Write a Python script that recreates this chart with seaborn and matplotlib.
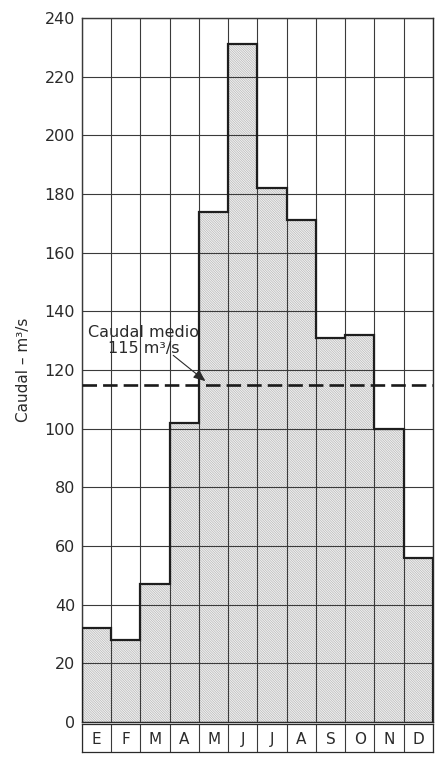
import numpy as np
import pandas as pd
import matplotlib
matplotlib.use("Agg")
import matplotlib.pyplot as plt
import seaborn as sns

# Monthly mean discharge (m3/s), January (E) to December (D)
meses = ["E", "F", "M", "A", "M", "J", "J", "A", "S", "O", "N", "D"]
caudal = [32, 28, 47, 102, 174, 231, 182, 171, 131, 132, 100, 56]
caudal_medio = 115
y_ticks = [0, 20, 40, 60, 80, 100, 120, 140, 160, 180, 200, 220, 240]

sns.set_theme(style="white")
plt.rcParams["font.family"] = ["DejaVu Sans"]
plt.rcParams["hatch.linewidth"] = 0.45

df = pd.DataFrame({"pos": np.arange(len(caudal)), "caudal": caudal})

fig = plt.figure(figsize=(4.48, 7.59), dpi=100)
ax = fig.add_axes([0.183, 0.0487, 0.7835, 0.9276])
ax_m = fig.add_axes([0.183, 0.0092, 0.7835, 0.0375])

sns.barplot(data=df, x="pos", y="caudal", width=1.0, color="#f1f1f1",
            saturation=1, hatch="\\" * 14, edgecolor="#b4b4b4",
            linewidth=0, ax=ax, zorder=1)

# stepped outline of the monthly bars
edges = np.arange(len(caudal) + 1) - 0.5
ax.stairs(caudal, edges, baseline=0, color="#1e1e1e", linewidth=1.6, zorder=4)

ax.set_xlim(-0.5, len(caudal) - 0.5)
ax.set_ylim(0, 240)
ax.set_yticks(y_ticks)
ax.set_yticklabels([str(t) for t in y_ticks], fontsize=11.5, color="#2a2a2a")
ax.set_xticks([])
ax.grid(False)
for e in edges:
    ax.axvline(e, color="#3a3a3a", linewidth=0.8, zorder=3)
for t in y_ticks:
    ax.axhline(t, color="#3a3a3a", linewidth=0.8, zorder=3)
ax.tick_params(axis="y", length=0, pad=5)
ax.set_xlabel("")
ax.set_ylabel("Caudal – m³/s", fontsize=11, color="#2a2a2a", labelpad=10)
for s in ax.spines.values():
    s.set_color("#2a2a2a")
    s.set_linewidth(1.0)

# mean discharge
ax.axhline(caudal_medio, color="#1a1a1a", linewidth=1.9, dashes=(5.5, 2.3), zorder=5)
ax.text(1.6, 130, "Caudal medio\n115 m³/s", ha="center", va="center",
        multialignment="center", fontsize=11.5, color="#2a2a2a",
        linespacing=1.05, zorder=6)
ax.annotate("", xy=(3.72, 116.2), xytext=(2.62, 125.0),
            arrowprops=dict(arrowstyle="-|>,head_length=0.6,head_width=0.25",
                            color="#2a2a2a", lw=0.8, shrinkA=0, shrinkB=0),
            zorder=6)

# row of month letters under the chart
ax_m.set_xlim(-0.5, len(meses) - 0.5)
ax_m.set_ylim(0, 1)
for e in edges:
    ax_m.axvline(e, color="#3a3a3a", linewidth=0.8)
for i, m in enumerate(meses):
    ax_m.text(i, 0.45, m, ha="center", va="center", fontsize=11, color="#2a2a2a")
ax_m.set_xticks([])
ax_m.set_yticks([])
for s in ax_m.spines.values():
    s.set_color("#2a2a2a")
    s.set_linewidth(0.9)

fig.savefig("out.png", dpi=100)
